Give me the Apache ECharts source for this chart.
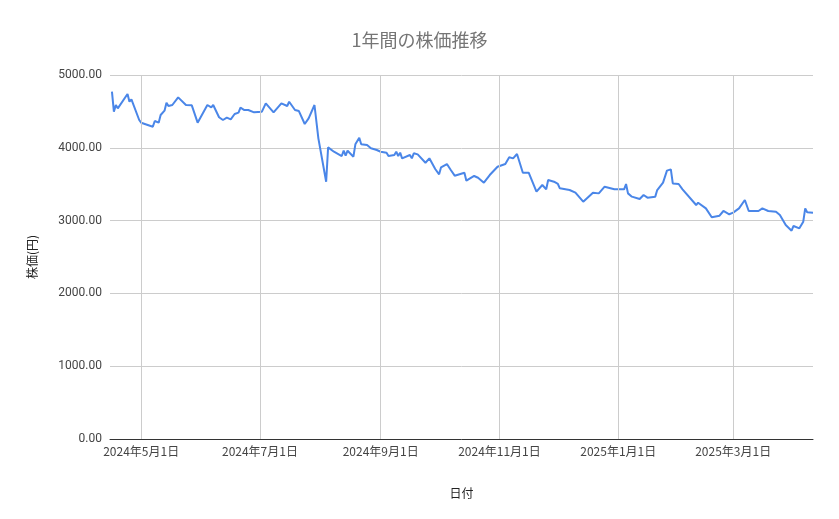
<!DOCTYPE html>
<html>
<head>
<meta charset="utf-8">
<script src="https://cdn.jsdelivr.net/npm/echarts@6/dist/echarts.min.js"></script>
<style>html,body{margin:0;padding:0;background:#fff}#main{width:839px;height:519px}</style>
</head>
<body>
<div id="main"></div>
<script>
// 起点日 (2024-04-15) からの経過日数と株価
var startDate = Date.UTC(2024, 3, 15);
var days = [1,2,3,4,9,10,11,15,16,22,23,25,26,28,29,30,32,35,39,42,45,50,52,53,56,58,60,62,64,66,67,69,71,74,78,80,84,88,91,92,95,97,100,102,105,106,107,111,112,115,119,120,121,122,125,126,128,129,132,134,137,139,142,143,146,147,148,149,150,154,155,156,158,162,164,167,169,170,173,175,177,182,183,187,189,190,192,195,199,203,204,205,207,209,212,215,219,222,224,225,228,230,231,236,239,243,248,251,254,259,264,265,266,268,272,274,276,280,281,284,286,288,289,292,293,294,301,302,306,309,313,315,318,320,321,323,326,328,333,335,338,342,344,347,350,351,354,356,357,358,361];
var prices = [4771,4496,4588,4542,4739,4633,4666,4382,4345,4290,4368,4345,4450,4510,4620,4574,4588,4693,4588,4583,4345,4588,4556,4588,4419,4382,4414,4391,4464,4483,4551,4519,4519,4487,4496,4611,4487,4611,4574,4633,4519,4505,4327,4405,4588,4574,4130,3534,4006,3946,3887,3960,3892,3960,3878,4048,4139,4048,4038,3993,3970,3946,3933,3887,3901,3946,3887,3933,3855,3901,3855,3924,3910,3795,3855,3709,3636,3732,3777,3695,3617,3658,3548,3613,3589,3603,3521,3626,3740,3777,3750,3869,3855,3915,3658,3658,3397,3489,3430,3558,3534,3503,3443,3420,3384,3260,3384,3374,3466,3430,3430,3503,3374,3329,3297,3352,3315,3329,3420,3521,3686,3704,3511,3503,3521,3430,3214,3246,3168,3045,3067,3132,3087,3109,3091,3168,3283,3132,3132,3168,3132,3122,3077,2940,2861,2926,2894,2985,3168,3114,3109];
// 縦の目盛り線の日付
var gridDates = ['2024-05-01','2024-07-01','2024-09-01','2024-11-01','2025-01-01','2025-03-01'];
var yTicks = [0, 1000, 2000, 3000, 4000, 5000];

var DAY = 86400000;
var seriesData = days.map(function (d, i) { return [startDate + d * DAY, prices[i]]; });
var marks = gridDates.map(function (s) {
    var p = s.split('-');
    return {
        xAxis: Date.UTC(+p[0], +p[1] - 1, +p[2]),
        label: { formatter: +p[0] + '年' + (+p[1]) + '月' + (+p[2]) + '日' }
    };
});

var myChart = echarts.init(document.getElementById('main'));
var option = {
    backgroundColor: '#fff',
    title: {
        text: '1年間の株価推移',
        left: 'center',
        top: 26,
        textStyle: { fontSize: 18, color: '#757575', fontWeight: 'normal', fontFamily: 'Noto Sans CJK JP' }
    },
    grid: { left: 110, right: 26, top: 75, bottom: 80 },
    xAxis: {
        type: 'time',
        min: startDate,
        max: startDate + 361 * DAY,
        name: '日付',
        nameLocation: 'middle',
        nameGap: 48,
        nameTextStyle: { color: '#222', fontSize: 12, fontFamily: 'Noto Sans CJK JP' },
        axisLine: { lineStyle: { color: '#333' } },
        axisTick: { show: false },
        axisLabel: { show: false },
        splitLine: { show: false }
    },
    yAxis: {
        type: 'value',
        min: yTicks[0],
        max: yTicks[yTicks.length - 1],
        interval: 1000,
        name: '株価(円)',
        nameLocation: 'middle',
        nameGap: 72,
        nameTextStyle: { color: '#222', fontSize: 12, fontFamily: 'Noto Sans CJK JP' },
        axisLine: { show: false },
        axisTick: { show: false },
        axisLabel: {
            color: '#444', fontSize: 12, margin: 8, fontFamily: 'Roboto',
            formatter: function (v) { return v.toFixed(2); }
        },
        splitLine: { lineStyle: { color: '#cccccc' } }
    },
    series: [{
        type: 'line',
        data: seriesData,
        showSymbol: false,
        lineStyle: { color: '#4a86e8', width: 2 },
        itemStyle: { color: '#4a86e8' },
        z: 3,
        markLine: {
            silent: true,
            symbol: 'none',
            animation: false,
            lineStyle: { color: '#cccccc', type: 'solid', width: 1 },
            label: {
                position: 'start', distance: 6, color: '#444', fontSize: 12,
                fontFamily: 'Noto Sans CJK JP'
            },
            data: marks
        }
    }]
};
myChart.setOption(option);
</script>
</body>
</html>
